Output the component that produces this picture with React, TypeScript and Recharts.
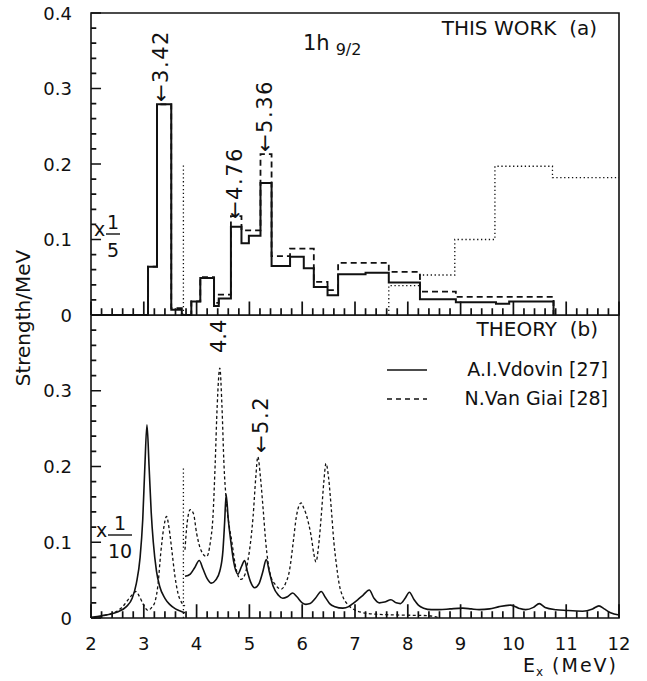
import React from 'react'
import { LineChart, Line, XAxis, YAxis } from 'recharts'

// x axis (MeV) and y axis ticks
const xMajorTicks = [2, 3, 4, 5, 6, 7, 8, 9, 10, 11, 12]
const yMajorLabels = ['0', '0.1', '0.2', '0.3', '0.4']

// (a) THIS WORK: bin edges and strengths (strength/MeV)
const solidEdges = [2, 3.08, 3.25, 3.52, 3.72, 3.9, 4.07, 4.33, 4.42, 4.65, 4.85, 4.99, 5.21, 5.42, 5.77, 6.03, 6.22, 6.48, 6.68, 7.2, 7.64, 8.23, 8.91, 9.67, 9.92, 10.76]
const solidValues = [0, 0.064, 0.279, 0.007, 0, 0.018, 0.049, 0.012, 0.022, 0.117, 0.095, 0.105, 0.175, 0.065, 0.077, 0.062, 0.037, 0.026, 0.054, 0.056, 0.043, 0.021, 0.017, 0.015, 0.018]

const dashedEdges = [2, 3.08, 3.25, 3.52, 3.72, 3.9, 4.07, 4.33, 4.42, 4.65, 4.85, 5.21, 5.42, 5.77, 6.22, 6.48, 6.68, 7.64, 8.23, 8.91, 10.76]
const dashedValues = [0, 0.064, 0.279, 0.009, 0, 0.018, 0.05, 0.016, 0.027, 0.131, 0.112, 0.213, 0.078, 0.088, 0.044, 0.033, 0.069, 0.057, 0.031, 0.024]

const dottedEdges = [7.64, 8.23, 8.89, 9.65, 10.74, 12]
const dottedValues = [0.039, 0.053, 0.1, 0.197, 0.182]

// threshold marker (dotted vertical line)
const thresholdE = 3.75
const thresholdTop = 0.2

// (b) THEORY curves, [E, strength]
const vdovinBelow: [number, number][] = [
  [2.0, 0.001], [2.2, 0.003], [2.36, 0.005], [2.5, 0.008], [2.67, 0.015], [2.78, 0.026], [2.86, 0.046],
  [2.93, 0.08], [2.98, 0.13], [3.02, 0.2], [3.06, 0.255], [3.1, 0.2], [3.14, 0.14], [3.18, 0.1],
  [3.24, 0.062], [3.3, 0.042], [3.4, 0.026], [3.49, 0.018], [3.6, 0.012], [3.7, 0.009], [3.78, 0.007],
]
const vdovinAbove: [number, number][] = [
  [3.78, 0.055], [3.88, 0.058], [3.96, 0.066], [4.05, 0.076], [4.12, 0.065], [4.2, 0.052], [4.28, 0.046],
  [4.36, 0.05], [4.44, 0.062], [4.5, 0.09], [4.53, 0.125], [4.56, 0.163], [4.6, 0.13], [4.65, 0.1],
  [4.7, 0.075], [4.78, 0.058], [4.85, 0.068], [4.91, 0.076], [4.96, 0.062], [5.02, 0.048], [5.1, 0.04],
  [5.18, 0.045], [5.25, 0.06], [5.32, 0.077], [5.38, 0.06], [5.45, 0.042], [5.55, 0.03], [5.63, 0.026],
  [5.72, 0.028], [5.82, 0.033], [5.9, 0.028], [6.0, 0.02], [6.07, 0.018], [6.15, 0.019], [6.25, 0.026],
  [6.36, 0.035], [6.44, 0.027], [6.52, 0.019], [6.62, 0.015], [6.77, 0.013], [6.88, 0.015], [6.96, 0.019],
  [7.05, 0.024], [7.15, 0.03], [7.27, 0.037], [7.36, 0.026], [7.46, 0.02], [7.56, 0.021], [7.68, 0.024],
  [7.78, 0.02], [7.86, 0.019], [7.95, 0.026], [8.03, 0.034], [8.12, 0.024], [8.2, 0.017], [8.3, 0.013],
  [8.45, 0.011], [8.6, 0.011], [8.8, 0.012], [9.04, 0.013], [9.2, 0.012], [9.35, 0.011], [9.55, 0.012],
  [9.73, 0.015], [9.95, 0.017], [10.1, 0.013], [10.23, 0.011], [10.38, 0.014], [10.49, 0.019], [10.6, 0.014],
  [10.81, 0.011], [11.0, 0.01], [11.31, 0.009], [11.5, 0.012], [11.62, 0.016], [11.72, 0.012], [11.84, 0.007],
  [12.0, 0.004],
]
const vanGiaiBelow: [number, number][] = [
  [2.05, 0], [2.3, 0.004], [2.49, 0.009], [2.6, 0.015], [2.7, 0.024], [2.8, 0.032], [2.85, 0.035],
  [2.92, 0.028], [2.99, 0.018], [3.08, 0.01], [3.15, 0.014], [3.21, 0.021], [3.27, 0.045], [3.32, 0.085],
  [3.38, 0.12], [3.43, 0.134], [3.48, 0.118], [3.53, 0.09], [3.59, 0.055], [3.65, 0.032], [3.72, 0.02],
  [3.78, 0.016],
]
const vanGiaiAbove: [number, number][] = [
  [3.78, 0.09], [3.82, 0.125], [3.88, 0.143], [3.94, 0.138], [4.0, 0.112], [4.08, 0.09], [4.19, 0.081],
  [4.26, 0.1], [4.31, 0.134], [4.35, 0.2], [4.39, 0.28], [4.44, 0.33], [4.48, 0.28], [4.52, 0.2],
  [4.56, 0.157], [4.61, 0.125], [4.66, 0.104], [4.75, 0.064], [4.84, 0.051], [4.92, 0.058], [4.97, 0.075],
  [5.03, 0.105], [5.07, 0.134], [5.12, 0.185], [5.16, 0.213], [5.21, 0.185], [5.26, 0.144], [5.31, 0.1],
  [5.35, 0.075], [5.42, 0.052], [5.48, 0.045], [5.6, 0.038], [5.68, 0.045], [5.76, 0.063], [5.83, 0.1],
  [5.89, 0.134], [5.95, 0.15], [5.98, 0.152], [6.03, 0.145], [6.07, 0.138], [6.12, 0.125], [6.17, 0.108],
  [6.22, 0.085], [6.26, 0.074], [6.31, 0.095], [6.36, 0.134], [6.41, 0.18], [6.45, 0.204], [6.5, 0.185],
  [6.55, 0.145], [6.6, 0.1], [6.64, 0.075], [6.7, 0.045], [6.77, 0.028], [6.86, 0.018], [6.96, 0.012],
  [7.15, 0.007], [7.4, 0.005], [7.8, 0.004], [8.4, 0.003], [8.6, 0],
]

const INK = '#111'
const FONT = '"DejaVu Sans", sans-serif'

type Pt = { E: number | null; v: number | null }

function toSteps(edges: number[], values: number[], dropAtEnd: boolean): Pt[] {
  return edges.map((e, i) => ({
    E: e,
    v: i < values.length ? values[i] : dropAtEnd ? 0 : values[values.length - 1],
  }))
}
const toPts = (pairs: [number, number][]): Pt[] => pairs.map(([E, v]) => ({ E, v }))

const solidSteps = toSteps(solidEdges, solidValues, true)
const dashedSteps = toSteps(dashedEdges, dashedValues, true)
const dottedSteps = [{ E: dottedEdges[0], v: 0 }, ...toSteps(dottedEdges, dottedValues, false)]
const thresholdLine = [{ E: thresholdE, v: 0 }, { E: thresholdE, v: thresholdTop }]

// minor ticks every 0.2 MeV, every 0.02 in strength
const xTicks: number[] = []
for (let i = 0; i <= (12 - 2) * 5; i++) xTicks.push(+(2 + i * 0.2).toFixed(1))
const yTicks: number[] = []
for (let i = 0; i <= 20; i++) yTicks.push(+(i * 0.02).toFixed(2))
const isMajorX = (t: number) => xMajorTicks.includes(t)
const isMajorY = (t: number) => Math.round(t * 50) % 5 === 0

// inward tick marks and panel frame, drawn as line pieces in data units
const xTickMarks: Pt[] = xTicks.flatMap((t) => [
  { E: t, v: 0 },
  { E: t, v: isMajorX(t) ? 0.018 : 0.009 },
  { E: t, v: null },
])
const yTickMarks: Pt[] = yTicks.flatMap((t) => [
  { E: 2, v: t },
  { E: isMajorY(t) ? 2.19 : 2.1, v: t },
  { E: 2.2, v: null },
])
const frame: Pt[] = [
  { E: 2, v: 0 },
  { E: 12, v: 0 },
  { E: 12, v: 0.4 },
  { E: 2, v: 0.4 },
  { E: 2, v: 0 },
]

function XTick(props: any) {
  const { x, y, payload, showLabel } = props
  const v = payload.value
  if (!showLabel || !isMajorX(v)) return <g />
  return (
    <text x={x} y={y + 32} textAnchor="middle" fontSize={18} fontFamily={FONT} fill={INK}>
      {v}
    </text>
  )
}

function YTick(props: any) {
  const { x, y, payload, hideTop } = props
  const v = payload.value
  const idx = Math.round(v * 50)
  if (idx % 5 !== 0 || (hideTop && idx === 20)) return <g />
  return (
    <text x={x - 19} y={y} textAnchor="end" dominantBaseline="central" fontSize={18} fontFamily={FONT} fill={INK}>
      {yMajorLabels[idx / 5]}
    </text>
  )
}

const lineBase = { dataKey: 'v', dot: false, activeDot: false, isAnimationActive: false, stroke: INK } as const

function Frac({ x, y, num, den, w }: { x: number; y: number; num: string; den: string; w: number }) {
  return (
    <g fontFamily={FONT} fill={INK}>
      <text x={x} y={y + 3} fontSize={19}>x</text>
      <text x={x + 13 + w / 2} y={y - 4} fontSize={19} textAnchor="middle">{num}</text>
      <line x1={x + 12} x2={x + 14 + w} y1={y + 1} y2={y + 1} stroke={INK} strokeWidth={1.4} />
      <text x={x + 13 + w / 2} y={y + 24} fontSize={19} textAnchor="middle">{den}</text>
    </g>
  )
}

function VText({ x, y, text, size = 21, spacing = 0 }: { x: number; y: number; text: string; size?: number; spacing?: number }) {
  return (
    <text
      transform={`translate(${x},${y}) rotate(-90)`}
      textAnchor="start"
      dominantBaseline="central"
      fontSize={size}
      letterSpacing={spacing}
      fontFamily={FONT}
      fill={INK}
    >
      {text}
    </text>
  )
}

export default function App() {
  return (
    <div style={{ position: 'relative', width: 647, height: 681, background: '#fff' }}>
      <style>{'body{margin:0;background:#fff}'}</style>
      <div style={{ position: 'absolute', left: 0, top: 0 }}>
        <LineChart width={647} height={330} margin={{ top: 13, right: 28, bottom: 14, left: 31 }}>
          <XAxis dataKey="E" type="number" domain={[2, 12]} ticks={xTicks} interval={0} height={1}
            axisLine={false} tickLine={false} tickSize={0} tickMargin={0}
            tick={(p: any) => <XTick {...p} showLabel={false} />} />
          <YAxis dataKey="v" type="number" domain={[0, 0.4]} ticks={yTicks} interval={0} width={60}
            axisLine={false} tickLine={false} tickSize={0} tickMargin={0}
            tick={(p: any) => <YTick {...p} hideTop={false} />} />
          <Line {...lineBase} data={frame} type="linear" strokeWidth={1.6} />
          <Line {...lineBase} data={xTickMarks} type="linear" strokeWidth={1.7} connectNulls={false} />
          <Line {...lineBase} data={yTickMarks} type="linear" strokeWidth={1.7} connectNulls={false} />
          <Line {...lineBase} data={thresholdLine} type="linear" strokeWidth={1.3} strokeDasharray="1.3 2.6" />
          <Line {...lineBase} data={dottedSteps} type="stepAfter" strokeWidth={1.3} strokeDasharray="1.3 2.6" />
          <Line {...lineBase} data={dashedSteps} type="stepAfter" strokeWidth={1.8} strokeDasharray="6 4" />
          <Line {...lineBase} data={solidSteps} type="stepAfter" strokeWidth={2} />
        </LineChart>
      </div>
      <div style={{ position: 'absolute', left: 0, top: 315 }}>
        <LineChart width={647} height={366} margin={{ top: 0, right: 28, bottom: 22, left: 31 }}>
          <XAxis dataKey="E" type="number" domain={[2, 12]} ticks={xTicks} interval={0} height={41}
            axisLine={false} tickLine={false} tickSize={0} tickMargin={0}
            tick={(p: any) => <XTick {...p} showLabel={true} />} />
          <YAxis dataKey="v" type="number" domain={[0, 0.4]} ticks={yTicks} interval={0} width={60}
            axisLine={false} tickLine={false} tickSize={0} tickMargin={0}
            tick={(p: any) => <YTick {...p} hideTop={true} />} />
          <Line {...lineBase} data={frame} type="linear" strokeWidth={1.6} />
          <Line {...lineBase} data={xTickMarks} type="linear" strokeWidth={1.7} connectNulls={false} />
          <Line {...lineBase} data={yTickMarks} type="linear" strokeWidth={1.7} connectNulls={false} />
          <Line {...lineBase} data={thresholdLine} type="linear" strokeWidth={1.3} strokeDasharray="1.3 2.6" />
          <Line {...lineBase} data={toPts(vanGiaiBelow)} type="monotone" strokeWidth={1.3} strokeDasharray="3 2.5" />
          <Line {...lineBase} data={toPts(vanGiaiAbove)} type="monotone" strokeWidth={1.3} strokeDasharray="3 2.5" />
          <Line {...lineBase} data={toPts(vdovinBelow)} type="monotone" strokeWidth={1.6} />
          <Line {...lineBase} data={toPts(vdovinAbove)} type="monotone" strokeWidth={1.6} />
        </LineChart>
      </div>
      <svg width={647} height={681} style={{ position: 'absolute', left: 0, top: 0, pointerEvents: 'none' }}>
        <text transform="translate(23,318) rotate(-90)" textAnchor="middle" dominantBaseline="central" fontSize={20} fontFamily={FONT} fill={INK}>
          Strength/MeV
        </text>
        <text x={597} y={35} textAnchor="end" fontSize={20} fontFamily={FONT} fill={INK} style={{ whiteSpace: 'pre' }}>
          THIS WORK  (a)
        </text>
        <text x={303} y={50} fontSize={21} fontFamily={FONT} fill={INK}>
          1h<tspan dx={6} dy={5} fontSize={16}>9/2</tspan>
        </text>
        <VText x={161} y={102} text="←3.42" spacing={1.5} />
        <VText x={235} y={219} text="←4.76" spacing={1.5} />
        <VText x={265} y={152} text="←5.36" spacing={1.5} />
        <Frac x={94} y={233} num="1" den="5" w={12} />

        <text x={598} y={336} textAnchor="end" fontSize={20} fontFamily={FONT} fill={INK} style={{ whiteSpace: 'pre' }}>
          THEORY  (b)
        </text>
        <line x1={387} x2={427} y1={370} y2={370} stroke={INK} strokeWidth={1.5} />
        <text x={608} y={376} textAnchor="end" fontSize={19} fontFamily={FONT} fill={INK}>A.I.Vdovin [27]</text>
        <line x1={387} x2={427} y1={399} y2={399} stroke={INK} strokeWidth={1.4} strokeDasharray="5 4" />
        <text x={608} y={405} textAnchor="end" fontSize={19} fontFamily={FONT} fill={INK}>N.Van Giai [28]</text>
        <VText x={219} y={353} text="4.4" />
        <VText x={261} y={453} text="←5.2" spacing={1.5} />
        <Frac x={96} y={534} num="1" den="10" w={22} />

        <text x={523} y={672} fontSize={19} fontFamily={FONT} fill={INK}>E</text>
        <text x={536} y={676} fontSize={12} fontFamily={FONT} fill={INK}>x</text>
        <text x={618} y={672} textAnchor="end" fontSize={19} letterSpacing={2} fontFamily={FONT} fill={INK}>(MeV)</text>
      </svg>
    </div>
  )
}
